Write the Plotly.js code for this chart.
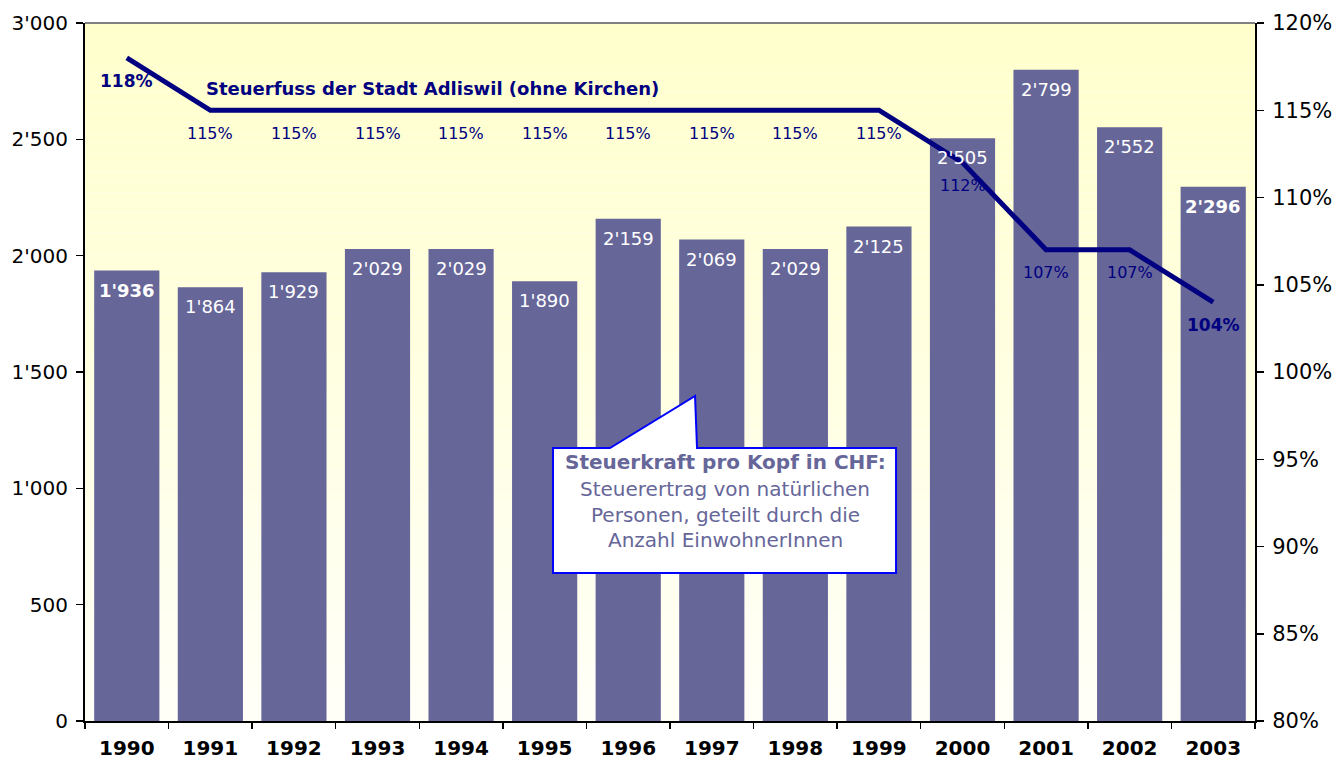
<!DOCTYPE html>
<html>
<head>
<meta charset="utf-8">
<script src="https://cdn.plot.ly/plotly-3.0.1.min.js"></script>
<style>html,body{margin:0;padding:0;background:#fff;}#chart{width:1333px;height:761px;}</style>
</head>
<body>
<div id="chart"></div>
<script>
// ---- data ----
const years = ['1990','1991','1992','1993','1994','1995','1996','1997','1998','1999','2000','2001','2002','2003'];
const steuerkraft = [1936, 1864, 1929, 2029, 2029, 1890, 2159, 2069, 2029, 2125, 2505, 2799, 2552, 2296];
const steuerfuss = [118, 115, 115, 115, 115, 115, 115, 115, 115, 115, 112, 107, 107, 104];
const leftTicks = [0, 500, 1000, 1500, 2000, 2500, 3000];
const rightTicks = [80, 85, 90, 95, 100, 105, 110, 115, 120];
const lineTitle = 'Steuerfuss der Stadt Adliswil (ohne Kirchen)';
const calloutLines = ['<b>Steuerkraft pro Kopf in CHF:</b>', 'Steuerertrag von natürlichen', 'Personen, geteilt durch die', 'Anzahl EinwohnerInnen'];

const FONT = 'DejaVu Sans, Verdana, sans-serif';
const fmt = v => { const s = String(v); return s.length > 3 ? s.slice(0, s.length - 3) + "'" + s.slice(-3) : s; };
const last = years.length - 1;
const idx = years.map((_, i) => i);

const barTrace = {
  type: 'bar', x: idx, y: steuerkraft, marker: {color: '#666699'},
  hoverinfo: 'skip', yaxis: 'y', xaxis: 'x', width: 0.78
};
const lineTrace = {
  type: 'scatter', mode: 'lines', x: idx, y: steuerfuss, yaxis: 'y2',
  line: {color: '#000080', width: 5}, hoverinfo: 'skip'
};

// gradient background
const shapes = [];
const N = 70;
for (let i = 0; i < N; i++) {
  const t = i / (N - 1);
  const b = Math.round(0xCC + (0xF8 - 0xCC) * t);
  shapes.push({type: 'rect', xref: 'paper', yref: 'paper', x0: 0, x1: 1,
    y0: 1 - (i + 1) / N, y1: 1 - i / N, fillcolor: 'rgb(255,255,' + b + ')',
    line: {width: 0}, layer: 'below'});
}
// top border
shapes.push({type: 'line', xref: 'paper', yref: 'paper', x0: 0, x1: 1, y0: 1, y1: 1,
  line: {color: '#808080', width: 2}});
// callout
shapes.push({type: 'path', xref: 'paper', yref: 'paper', layer: 'above',
  path: 'M 0.4,0.3911 L 0.4487,0.3911 L 0.5214,0.4656 L 0.5231,0.3911 L 0.6932,0.3911 L 0.6932,0.2120 L 0.4,0.2120 Z',
  fillcolor: '#ffffff', line: {color: '#0000FF', width: 2}});

const annotations = [];
idx.forEach(i => {
  const bold = (i === 0 || i === last);
  annotations.push({x: i, y: steuerkraft[i], xref: 'x', yref: 'y', yanchor: 'top', yshift: -7,
    showarrow: false, text: bold ? '<b>' + fmt(steuerkraft[i]) + '</b>' : fmt(steuerkraft[i]),
    font: {family: FONT, size: 18, color: '#ffffff'}});
  annotations.push({x: i, y: steuerfuss[i], xref: 'x', yref: 'y2', yanchor: 'middle', yshift: -23,
    showarrow: false, text: bold ? '<b>' + steuerfuss[i] + '%</b>' : steuerfuss[i] + '%',
    font: {family: FONT, size: bold ? 17 : 16, color: '#000080'}});
});
annotations.push({xref: 'paper', yref: 'paper', x: (432 - 85) / 1170, y: (721 - 88) / 698,
  xanchor: 'center', yanchor: 'middle',
  showarrow: false, text: '<b>' + lineTitle + '</b>', font: {family: FONT, size: 18, color: '#000080'}});
const calloutY = [462, 489, 515, 540];
calloutLines.forEach((t, i) => {
  annotations.push({xref: 'paper', yref: 'paper', x: (725 - 85) / 1170, y: (721 - calloutY[i]) / 698,
    xanchor: 'center', yanchor: 'middle', showarrow: false, text: t,
    font: {family: FONT, size: 20, color: '#666699'}});
});

const layout = {
  width: 1333, height: 761,
  margin: {l: 85, r: 78, t: 23, b: 40, pad: 0},
  paper_bgcolor: '#ffffff', plot_bgcolor: '#ffffff',
  showlegend: false,
  font: {family: FONT, color: '#000000'},
  xaxis: {type: 'linear', range: [-0.5, 13.5], tickvals: idx, ticktext: years,
    showline: true, linecolor: '#000000', linewidth: 2,
    ticks: '', tickfont: {family: FONT, size: 20, color: '#000000', weight: 'bold'},
    ticklabelstandoff: 8, showgrid: false, zeroline: false, fixedrange: true, automargin: false},
  xaxis2: {overlaying: 'x', type: 'linear', range: [-0.5, 13.5], tickvals: idx.map(i => i - 0.5).concat([13.5]),
    showticklabels: false, ticks: 'outside', ticklen: 7, tickcolor: '#000000', tickwidth: 1.5,
    side: 'bottom', showgrid: false, zeroline: false, fixedrange: true, automargin: false},
  yaxis: {range: [0, 3000], tickvals: leftTicks, ticktext: leftTicks.map(fmt),
    showline: true, linecolor: '#000000', linewidth: 2, ticks: 'outside', ticklen: 7,
    tickcolor: '#000000', tickwidth: 1.5, tickfont: {family: FONT, size: 20, color: '#000000'},
    ticklabelstandoff: 4, showgrid: false, zeroline: false, fixedrange: true, automargin: false},
  yaxis2: {range: [80, 120], tickvals: rightTicks, ticktext: rightTicks.map(v => v + '%'),
    overlaying: 'y', side: 'right', showline: true, linecolor: '#000000', linewidth: 2,
    ticks: 'outside', ticklen: 7, tickcolor: '#000000', tickwidth: 1.5,
    tickfont: {family: FONT, size: 21, color: '#000000'}, ticklabelstandoff: 4,
    showgrid: false, zeroline: false, fixedrange: true, automargin: false},
  shapes: shapes, annotations: annotations
};

const tickTrace = {type: 'scatter', x: [0], y: [0], xaxis: 'x2', yaxis: 'y', mode: 'none', hoverinfo: 'skip'};

Plotly.newPlot('chart', [barTrace, lineTrace, tickTrace], layout, {displayModeBar: false, staticPlot: true});
</script>
</body>
</html>
